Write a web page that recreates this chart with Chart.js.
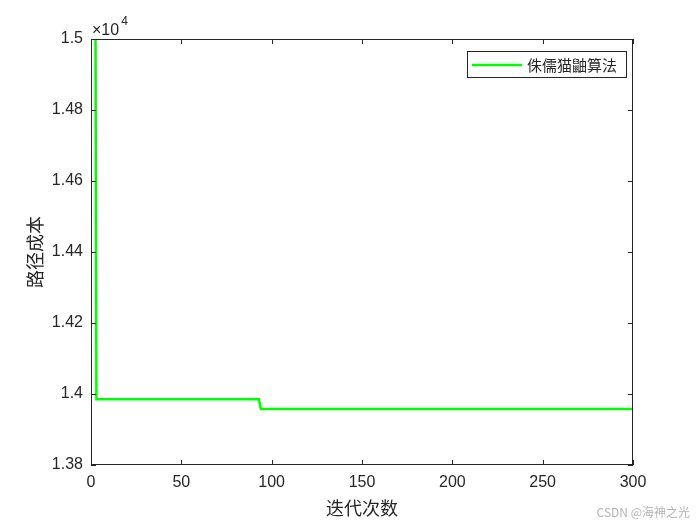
<!DOCTYPE html>
<html>
<head>
<meta charset="utf-8">
<script src="https://cdn.jsdelivr.net/npm/chart.js@4/dist/chart.umd.min.js"></script>
<style>
  html, body { margin: 0; padding: 0; background: #fff; }
</style>
</head>
<body>
<canvas id="chart" width="700" height="525"></canvas>
<script>
// iteration numbers where the best path cost changes, and the cost there
const iterations = [1, 2, 3, 93, 94, 300];
const pathCost = [16000, 16000, 13985, 13985, 13958, 13958];
const xTicks = [0, 50, 100, 150, 200, 250, 300];
const yTicks = [13800, 14000, 14200, 14400, 14600, 14800, 15000];
const seriesName = '侏儒猫鼬算法';
const xTitle = '迭代次数';
const yTitle = '路径成本';
const watermark = 'CSDN @海神之光';

const AXIS_COLOR = '#262626';
const TICK_FONT = '16px "Liberation Sans", Arial, sans-serif';
const CJK_FONT = '"Noto Sans CJK SC", sans-serif';

// MATLAB-ish box, inward ticks, exponent label, titles and legend
const matlabFrame = {
    id: 'matlabFrame',
    afterDatasetsDraw(chart) {
        const { ctx, chartArea: a, scales: { x, y } } = chart;
        ctx.save();
        ctx.strokeStyle = AXIS_COLOR;
        ctx.lineWidth = 1;
        ctx.strokeRect(a.left + 0.5, a.top + 0.5, a.width - 1, a.height - 1);

        ctx.beginPath();
        xTicks.forEach(v => {
            const px = Math.round(x.getPixelForValue(v)) + 0.5;
            ctx.moveTo(px, a.bottom); ctx.lineTo(px, a.bottom - 5);
            ctx.moveTo(px, a.top); ctx.lineTo(px, a.top + 5);
        });
        yTicks.forEach(v => {
            const py = Math.round(y.getPixelForValue(v)) + 0.5;
            ctx.moveTo(a.left, py); ctx.lineTo(a.left + 5, py);
            ctx.moveTo(a.right, py); ctx.lineTo(a.right - 5, py);
        });
        ctx.stroke();

        // x10^4 exponent
        ctx.fillStyle = AXIS_COLOR;
        ctx.textBaseline = 'alphabetic';
        ctx.textAlign = 'left';
        ctx.font = TICK_FONT;
        ctx.fillText('\u00d710', a.left + 1, a.top - 4);
        const w = ctx.measureText('\u00d710').width;
        ctx.font = '12px "Liberation Sans", Arial, sans-serif';
        ctx.fillText('4', a.left + w + 3, a.top - 14);

        // axis titles
        ctx.font = '18px ' + CJK_FONT;
        ctx.textAlign = 'center';
        ctx.textBaseline = 'middle';
        ctx.fillText(xTitle, (a.left + a.right) / 2, 508);
        ctx.save();
        ctx.translate(35, (a.top + a.bottom) / 2);
        ctx.rotate(-Math.PI / 2);
        ctx.fillText(yTitle, 0, 0);
        ctx.restore();

        // legend
        const lx = 467, ly = 51, lw = 159, lh = 26;
        ctx.fillStyle = '#fff';
        ctx.fillRect(lx, ly, lw, lh);
        ctx.strokeStyle = AXIS_COLOR;
        ctx.strokeRect(lx + 0.5, ly + 0.5, lw, lh);
        ctx.strokeStyle = '#00ff00';
        ctx.lineWidth = 2.5;
        ctx.beginPath();
        ctx.moveTo(lx + 5, ly + 14); ctx.lineTo(lx + 55, ly + 14);
        ctx.stroke();
        ctx.fillStyle = AXIS_COLOR;
        ctx.font = '15px ' + CJK_FONT;
        ctx.textAlign = 'left';
        ctx.fillText(chart.data.datasets[0].label, lx + 60, ly + 14);

        // watermark
        ctx.fillStyle = '#b4b4b4';
        ctx.font = '12px ' + CJK_FONT;
        ctx.textAlign = 'right';
        ctx.fillText(watermark, 690, 512);
        ctx.restore();
    }
};

new Chart(document.getElementById('chart'), {
    type: 'line',
    data: {
        datasets: [{
            label: seriesName,
            data: iterations.map((it, i) => ({ x: it, y: pathCost[i] })),
            borderColor: '#00ff00',
            borderWidth: 2.5,
            pointRadius: 0,
            tension: 0,
            fill: false
        }]
    },
    options: {
        responsive: false,
        animation: false,
        layout: { padding: { top: 39, right: 67, left: 0, bottom: 0 } },
        plugins: { legend: { display: false }, tooltip: { enabled: false } },
        scales: {
            x: {
                type: 'linear',
                min: 0, max: 300,
                afterFit: s => { s.height = 60; },
                afterBuildTicks: s => { s.ticks = xTicks.map(v => ({ value: v })); },
                grid: { display: false, drawTicks: false },
                border: { display: false },
                ticks: { color: AXIS_COLOR, font: { family: '"Liberation Sans", Arial', size: 16 }, padding: 8, maxRotation: 0 }
            },
            y: {
                type: 'linear',
                min: 13800, max: 15000,
                afterFit: s => { s.width = 91; },
                afterBuildTicks: s => { s.ticks = yTicks.map(v => ({ value: v })); },
                grid: { display: false, drawTicks: false },
                border: { display: false },
                ticks: {
                    color: AXIS_COLOR,
                    font: { family: '"Liberation Sans", Arial', size: 16 },
                    padding: 8,
                    callback: v => String(+(v / 10000).toFixed(2))
                }
            }
        }
    },
    plugins: [matlabFrame]
});
</script>
</body>
</html>
